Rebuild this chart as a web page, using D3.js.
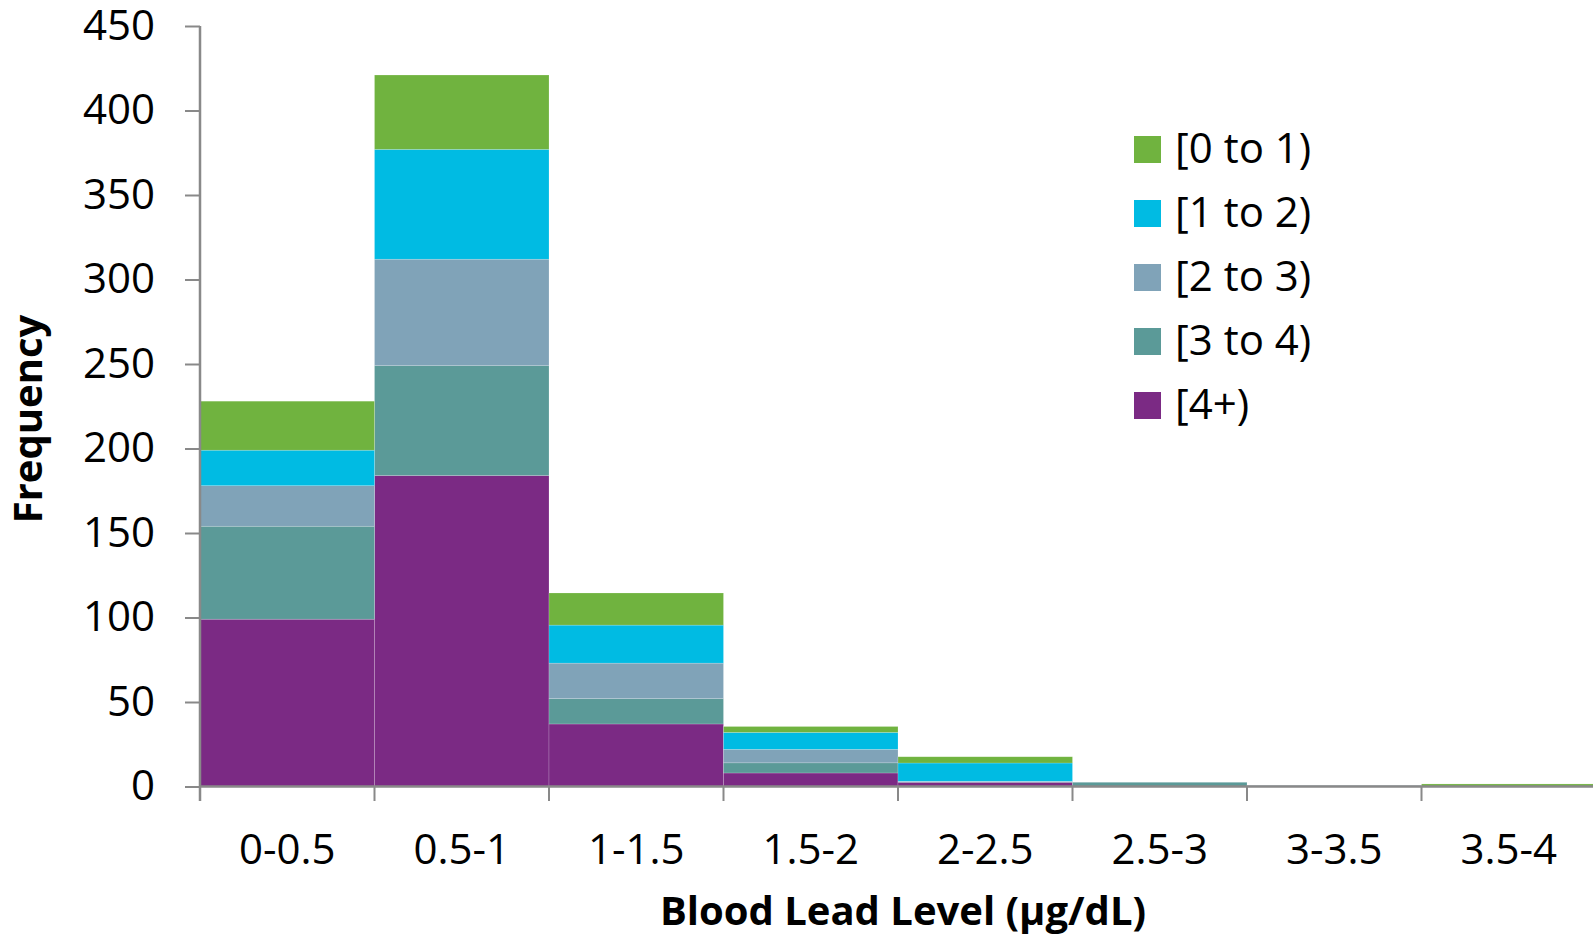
<!DOCTYPE html>
<html>
<head>
<meta charset="utf-8">
<script src="https://cdn.jsdelivr.net/npm/d3@7"></script>
<style>
  body { margin: 0; background: #fff; }
  svg { display: block; font-family: "Open Sans", sans-serif; }
  .tick text { fill: #000; }
</style>
</head>
<body>
<svg width="1593" height="937"></svg>
<script>
// bins of blood lead level
var categories = ["0-0.5", "0.5-1", "1-1.5", "1.5-2", "2-2.5", "2.5-3", "3-3.5", "3.5-4"];

// series, stacked bottom to top
var keys = ["[4+)", "[3 to 4)", "[2 to 3)", "[1 to 2)", "[0 to 1)"];
var s4plus = [99, 184, 37, 8, 2.5, 0, 0, 0];
var s3to4 = [55, 65, 15, 6, 0.3, 2.5, 0, 0];
var s2to3 = [24, 63, 21, 8, 0.3, 0, 0.6, 0];
var s1to2 = [21, 65, 22.5, 10, 10.8, 0, 0, 0];
var s0to1 = [29, 44, 19, 3.5, 3.7, 0, 0, 1.5];

var yTicks = [0, 50, 100, 150, 200, 250, 300, 350, 400, 450];

// legend order, top to bottom
var legendKeys = ["[0 to 1)", "[1 to 2)", "[2 to 3)", "[3 to 4)", "[4+)"];
var colors = {
  "[0 to 1)": "#70b33f",
  "[1 to 2)": "#00bbe3",
  "[2 to 3)": "#80a3b8",
  "[3 to 4)": "#5b9a98",
  "[4+)": "#7b2a84"
};

var svg = d3.select("svg");
var axisColor = "#898989";

var table = categories.map(function (c, i) {
  return {
    bin: c,
    "[4+)": s4plus[i],
    "[3 to 4)": s3to4[i],
    "[2 to 3)": s2to3[i],
    "[1 to 2)": s1to2[i],
    "[0 to 1)": s0to1[i]
  };
});

var x = d3.scaleBand().domain(categories).range([200, 1596]).padding(0);
var y = d3.scaleLinear().domain([0, 450]).range([786.5, 26]);

var stack = d3.stack().keys(keys);
var layers = stack(table);

svg
  .append("g")
  .selectAll("g")
  .data(layers)
  .enter()
  .append("g")
  .attr("fill", (d) => colors[d.key])
  .selectAll("rect")
  .data((d) => d)
  .enter()
  .filter((d) => d[1] - d[0] > 0)
  .append("rect")
  .attr("x", (d) => x(d.data.bin))
  .attr("width", x.bandwidth())
  .attr("y", (d) => y(d[1]))
  .attr("height", (d) => y(d[0]) - y(d[1]))
  .attr("stroke", "rgba(255,255,255,0.3)")
  .attr("stroke-width", 0.6);

// y axis
var yAxis = svg
  .append("g")
  .attr("transform", "translate(200,0)")
  .call(d3.axisLeft(y).tickValues(yTicks).tickSize(15).tickPadding(30).tickSizeOuter(0));
yAxis.select(".domain").remove();
yAxis.selectAll(".tick line").attr("stroke", axisColor).attr("stroke-width", 2);
yAxis.selectAll(".tick text").attr("font-size", 42).attr("font-family", "Open Sans");
svg
  .append("line")
  .attr("x1", 200).attr("x2", 200)
  .attr("y1", y(450)).attr("y2", 801)
  .attr("stroke", axisColor).attr("stroke-width", 2.5);

// x axis
svg
  .append("line")
  .attr("x1", 199).attr("x2", 1593)
  .attr("y1", y(0)).attr("y2", y(0))
  .attr("stroke", axisColor).attr("stroke-width", 2.5);

var edges = categories.map((c) => x(c));
svg
  .append("g")
  .selectAll("line")
  .data(edges)
  .enter()
  .append("line")
  .attr("x1", (d) => d).attr("x2", (d) => d)
  .attr("y1", y(0)).attr("y2", 801)
  .attr("stroke", axisColor).attr("stroke-width", 2);

svg
  .append("g")
  .selectAll("text")
  .data(categories)
  .enter()
  .append("text")
  .attr("x", (d) => x(d) + x.bandwidth() / 2)
  .attr("y", 864)
  .attr("text-anchor", "middle")
  .attr("font-size", 42)
  .text((d) => d);

// axis titles
svg
  .append("text")
  .attr("x", 903)
  .attr("y", 925)
  .attr("text-anchor", "middle")
  .attr("font-size", 40)
  .attr("font-weight", "bold")
  .text("Blood Lead Level (µg/dL)");

svg
  .append("text")
  .attr("transform", "translate(42,419) rotate(-90)")
  .attr("text-anchor", "middle")
  .attr("font-size", 40)
  .attr("font-weight", "bold")
  .text("Frequency");

// legend
var legend = svg
  .append("g")
  .selectAll("g")
  .data(legendKeys)
  .enter()
  .append("g")
  .attr("transform", (d, i) => "translate(1134," + (136 + i * 64) + ")");
legend
  .append("rect")
  .attr("width", 27)
  .attr("height", 27)
  .attr("fill", (d) => colors[d]);
legend
  .append("text")
  .attr("x", 41)
  .attr("y", 27)
  .attr("font-size", 42)
  .text((d) => d);
</script>
</body>
</html>
